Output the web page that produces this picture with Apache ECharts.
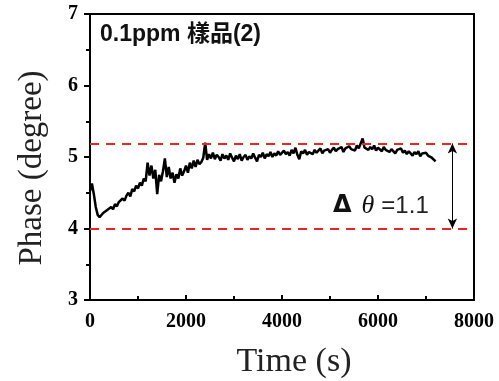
<!DOCTYPE html>
<html><head><meta charset="utf-8">
<script src="https://cdn.jsdelivr.net/npm/echarts@6/dist/echarts.min.js"></script>
<style>html,body{margin:0;padding:0;background:#fff}#c{width:499px;height:381px}</style>
</head><body><div id="c"></div>
<script>
const timeStep = 40;
const phase = [4.52,4.63,4.48,4.30,4.19,4.16,
4.18,4.22,4.20,4.26,4.24,4.30,4.27,4.34,4.31,4.37,
4.35,4.42,4.39,4.46,4.50,4.45,4.55,4.52,4.60,4.56,
4.64,4.60,4.70,4.66,4.92,4.74,4.88,4.70,4.82,4.48,
4.75,4.66,4.80,4.98,4.72,4.86,4.70,4.78,4.64,4.76,
4.70,4.84,4.74,4.80,4.88,4.78,4.92,4.84,4.95,4.86,
4.96,4.90,4.93,4.99,5.20,4.96,5.04,4.98,5.06,4.97,
5.03,5.00,4.95,5.04,4.98,5.02,4.96,5.05,4.99,4.94,
5.02,4.97,5.04,4.95,5.00,5.03,4.96,5.01,4.98,5.05,
4.99,4.94,5.03,5.00,5.06,4.98,5.04,5.01,5.07,5.00,
5.05,5.02,5.08,5.03,5.01,5.09,5.04,5.07,5.02,5.10,
5.05,5.13,5.03,4.97,5.08,5.05,5.10,5.03,5.07,5.09,
5.04,5.10,5.06,5.08,5.12,5.05,5.09,5.07,5.11,5.06,
5.10,5.13,5.08,5.11,5.09,5.14,5.07,5.12,5.10,5.15,
5.11,5.13,5.09,5.16,5.12,5.10,5.26,5.13,5.15,5.10,
5.14,5.11,5.16,5.09,5.13,5.11,5.08,5.14,5.10,5.12,
5.07,5.11,5.09,5.05,5.10,5.08,5.12,5.06,5.09,5.04,
5.08,5.05,5.02,5.07,5.04,5.08,5.01,5.05,5.03,5.06,
5.02,5.04,4.99,5.01,4.94];
const refLines = [5.19, 4.0];
const arrowTime = 7550;
const titleText = '0.1ppm 樣品(2)';
const xName = 'Time (s)';
const yName = 'Phase (degree)';

const seriesData = phase.map((v, i) => [i * timeStep, v]);
const chart = echarts.init(document.getElementById('c'));
const labelStyle = {color: '#000', fontFamily: 'Liberation Serif', fontWeight: 'bold', fontSize: 20};
chart.setOption({
  animation: false,
  grid: {left: 90, right: 25, top: 14, bottom: 81, show: true, borderColor: '#000', borderWidth: 2},
  xAxis: {
    type: 'value', min: 0, max: 8000, interval: 2000,
    axisLine: {show: true, onZero: false, lineStyle: {color: '#000', width: 2}},
    splitLine: {show: false},
    axisTick: {show: true, inside: true, length: 5, lineStyle: {width: 2, color: '#000'}},
    minorTick: {show: true, splitNumber: 2, length: 4, lineStyle: {width: 2, color: '#000'}},
    axisLabel: {...labelStyle, margin: 12, formatter: v => String(v)}
  },
  yAxis: {
    type: 'value', min: 3, max: 7, interval: 1,
    axisLine: {show: true, onZero: false, lineStyle: {color: '#000', width: 2}},
    splitLine: {show: false},
    axisTick: {show: true, length: 6, lineStyle: {width: 2, color: '#000'}},
    minorTick: {show: true, splitNumber: 2, length: 4, lineStyle: {width: 2, color: '#000'}},
    axisLabel: {...labelStyle, margin: 12, formatter: v => String(v)}
  },
  series: [{
    type: 'line', data: seriesData, showSymbol: false,
    lineStyle: {color: '#000', width: 2.5}, z: 3,
    markLine: {
      silent: true, symbol: ['none', 'none'], label: {show: false},
      lineStyle: {color: '#e8262a', type: [9, 7], width: 2},
      data: refLines.map(v => ({yAxis: v}))
    }
  }, {
    type: 'line', data: [],
    markLine: {
      silent: true, symbol: ['arrow', 'arrow'], symbolSize: [7, 10], label: {show: false},
      lineStyle: {color: '#000', type: 'solid', width: 1},
      data: [[{coord: [arrowTime, refLines[0]]}, {coord: [arrowTime, refLines[1]]}]]
    }
  }],
  graphic: [{
    type: 'text', left: 100, top: 23,
    style: {text: titleText, fontFamily: 'Liberation Sans, Noto Sans CJK TC', fontWeight: 'bold', fontSize: 23, fill: '#111'}
  }, {
    type: 'text', left: 333, top: 193,
    style: {
      text: '{a|Δ}{b|θ}{c|=1.1}',
      rich: {
        a: {fontFamily: 'DejaVu Sans', fontWeight: 'bold', fontSize: 24, fill: '#111', padding: [0, 10, 0, 0]},
        b: {fontFamily: 'Liberation Serif', fontStyle: 'italic', fontSize: 26, fill: '#111', padding: [0, 7, 0, 0]},
        c: {fontFamily: 'Liberation Sans', fontSize: 24, fill: '#222'}
      }
    }
  }, {
    type: 'text', x: 294, y: 362,
    style: {text: xName, fontFamily: 'Liberation Serif', fontSize: 34, fill: '#222', align: 'center', verticalAlign: 'middle'}
  }, {
    type: 'text', x: 32, y: 168, rotation: Math.PI / 2,
    style: {text: yName, fontFamily: 'Liberation Serif', fontSize: 33, fill: '#222', align: 'center', verticalAlign: 'middle'}
  }]
});
</script></body></html>
